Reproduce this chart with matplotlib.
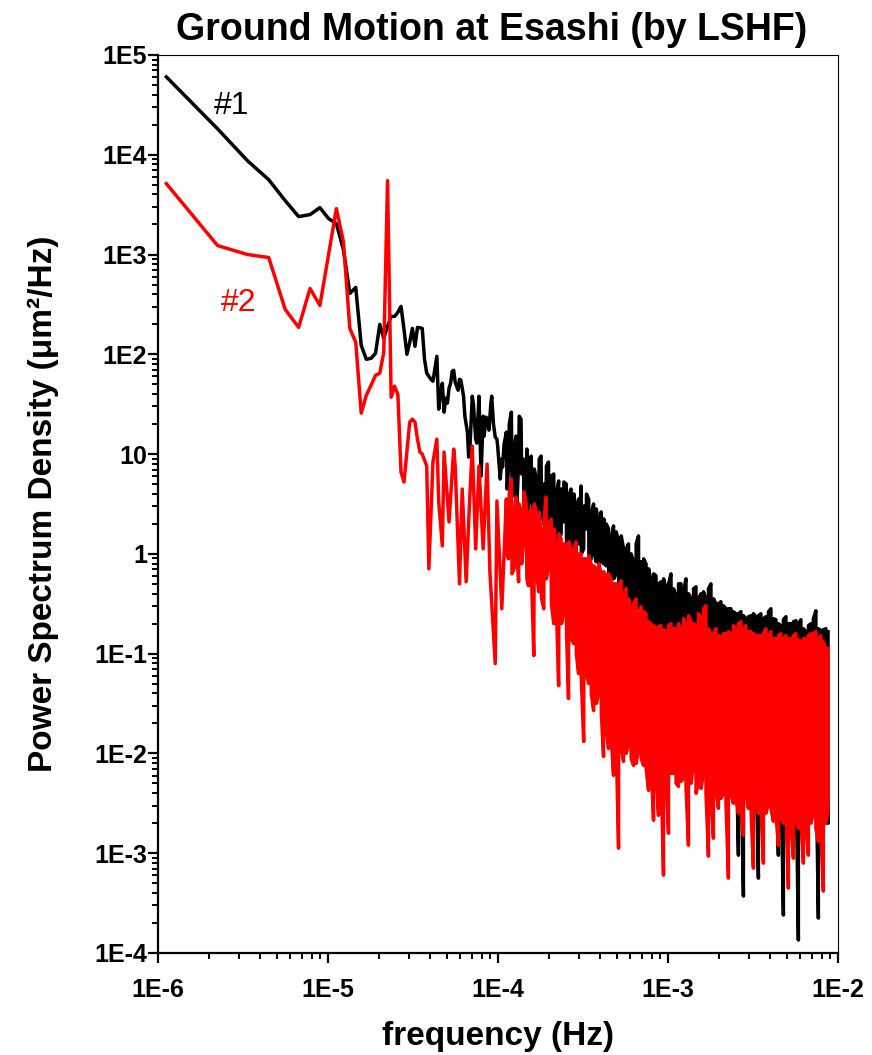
import numpy as np
import matplotlib
matplotlib.use("Agg")
import matplotlib.pyplot as plt
from matplotlib.ticker import LogLocator, NullFormatter, FixedLocator, FixedFormatter

plt.rcParams['font.family'] = ['Liberation Sans', 'DejaVu Sans']

# frequency bin width of the spectra (Hz)
DF = 1.12e-6

# --- data; PSD given as log10(um^2/Hz) ---
# sensor #1 (black), low-frequency bins
k1_low = [1, 2, 3, 4, 5, 6, 7, 8, 9, 10, 11, 12, 13, 14, 15, 16, 17, 18, 19, 20,
          21, 22, 23, 24, 25, 26, 27, 28, 29, 30, 32, 33, 34, 36, 37,
          39, 40, 41, 42, 43, 44, 45, 46, 47, 48, 49, 50, 52, 53, 54, 56, 57, 59, 60, 61,
          63, 64, 66, 67, 69, 71, 73, 74, 76, 78, 79, 81, 82, 84, 86, 88, 89, 91, 92, 94,
          95, 97]
lp1_low = [4.78, 4.26, 3.94, 3.75, 3.54, 3.38, 3.40, 3.47, 3.36, 3.31,
           3.05, 2.61, 2.67, 2.09, 1.95, 1.96, 2.01, 2.30, 2.16, 2.28,
           2.38, 2.38, 2.42, 2.48, 2.25, 2.00, 2.12, 2.26, 2.08, 2.27,
           2.26, 1.95, 1.81, 1.75, 1.73,
           1.98, 1.45, 1.62, 1.71, 1.42, 1.56, 1.51, 1.66, 1.71, 1.83,
           1.84, 1.72, 1.64, 1.75, 1.74, 1.58, 1.38, 1.22, 0.97, 1.05,
           1.58, 1.50, 1.15, 1.11, 1.58, 0.78, 1.38, 1.18, 1.37, 1.32,
           1.24, 1.50, 1.58, 1.30, 1.17, 1.15, 1.07, 0.85, 0.75, 0.95,
           0.87, 1.10]

# sensor #2 (red), low-frequency bins
k2_low = [1, 2, 3, 4, 5, 6, 7, 8, 9, 10, 11, 12, 13, 14, 15, 16, 17, 18, 19, 20,
          21, 22, 23, 24, 25, 27, 28, 29, 30, 31, 32, 34, 35, 37, 39, 40, 42, 43, 46, 49,
          50, 53, 55, 58, 60, 63, 66, 69, 73, 77, 80, 86, 88, 94]
lp2_low = [3.71, 3.09, 3.00, 2.97, 2.45, 2.27, 2.66, 2.49, 3.00, 3.46,
           3.13, 2.26, 2.12, 1.41, 1.59, 1.69, 1.79, 1.81, 2.02, 3.74,
           1.57, 1.68, 1.60, 0.82, 0.72, 1.32, 1.35, 1.32, 1.15, 1.02,
           1.00, 0.88, -0.15, 0.92, 1.15, 0.52, 0.08, 1.02, 0.32, 1.05,
           0.88, -0.30, 0.65, -0.28, 0.32, 1.08, 0.05, 0.88, 0.05, 0.90,
           -0.18, -1.10, 0.53, -0.55]

# dense high-frequency part: sampled bins k, each with two neighbouring
# values (bin k and bin k+1), one near a peak and one near a dip
k_high = [100, 103, 107, 111, 114, 118, 122, 126, 131, 135,
          140, 145, 150, 155, 160, 166, 171, 177, 183, 190,
          196, 203, 210, 217, 225, 232, 240, 249, 257, 266,
          275, 285, 295, 305, 315, 326, 337, 349, 361, 373,
          386, 399, 413, 427, 442, 457, 473, 489, 506, 523,
          541, 560, 579, 599, 620, 641, 663, 686, 709, 734,
          759, 785, 812, 840, 869, 899, 930, 962, 995, 1029,
          1065, 1101, 1139, 1178, 1219, 1261, 1304, 1349, 1395, 1443,
          1493, 1544, 1597, 1652, 1709, 1768, 1829, 1892, 1957, 2024,
          2094, 2166, 2240, 2318, 2397, 2480, 2565, 2653, 2745, 2839,
          2937, 3038, 3143, 3251, 3363, 3479, 3598, 3722, 3850, 3983,
          4120, 4262, 4408, 4560, 4717, 4880, 5047, 5221, 5401, 5587,
          5779, 5978, 6184, 6397, 6617, 6845, 7080, 7324, 7576, 7800]
lp1_high_a = [1.22, 0.85, 1.42, 0.58, 1.18, 0.90, 1.35, 0.95, 0.60, 0.22,
              0.98, 0.40, 0.75, 0.52, 0.98, 0.30, 0.52, 0.92, 0.35, 0.80,
              0.12, 0.73, 0.20, 0.32, 0.70, 0.10, 0.65, 0.25, -0.18, 0.55,
              0.68, 0.05, 0.25, 0.55, -0.05, 0.50, -0.08, 0.30, 0.42, -0.10,
              -0.12, 0.25, -0.35, 0.28, -0.20, 0.12, -0.30, 0.05, -0.40, 0.10,
              -0.75, -0.08, -0.50, 0.18, -0.08, -0.60, -0.10, -0.68, -0.28, -0.80,
              -0.22, -1.08, -0.28, -0.88, -0.35, -0.95, -0.20, -1.00, -0.42, -1.20,
              -0.30, -1.30, -0.25, -1.10, -0.45, -1.60, -0.33, -1.40, -0.40, -1.80,
              -0.45, -1.50, -0.30, -1.90, -0.50, -1.30, -0.48, -1.70, -0.55, -1.50,
              -0.55, -1.60, -0.60, -3.02, -0.58, -3.43, -0.65, -1.80, -0.62, -1.50,
              -0.63, -3.25, -0.60, -1.90, -0.63, -1.60, -0.55, -2.00, -0.66, -3.02,
              -0.72, -3.62, -0.63, -1.80, -0.70, -2.00, -0.67, -3.87, -0.66, -1.90,
              -0.78, -1.90, -0.70, -1.80, -0.57, -3.65, -0.77, -2.00, -0.75, -2.70]
lp1_high_b = [0.65, 1.30, 0.70, 1.10, 0.45, 1.38, 0.80, 0.40, 1.05, 0.90,
              0.55, 0.85, 0.30, 0.95, 0.45, 0.70, 0.88, 0.25, 0.78, 0.20,
              0.60, 0.15, 0.65, 0.72, 0.00, 0.58, 0.05, 0.60, 0.45, 0.10,
              0.00, 0.48, 0.60, -0.12, 0.40, 0.02, 0.45, -0.20, -0.05, 0.35,
              0.30, -0.30, 0.15, -0.25, 0.22, -0.45, 0.18, -0.50, 0.05, -0.55,
              0.00, -0.65, 0.10, -0.55, -0.70, -0.05, -0.85, -0.15, -0.90, -0.20,
              -0.95, -0.30, -1.05, -0.25, -1.20, -0.30, -1.10, -0.35, -1.25, -0.30,
              -1.40, -0.38, -1.50, -0.40, -1.35, -0.35, -1.70, -0.45, -1.60, -0.38,
              -1.70, -0.35, -1.60, -0.45, -1.80, -0.50, -1.90, -0.52, -1.75, -0.55,
              -2.00, -0.58, -1.85, -0.60, -1.90, -0.62, -2.00, -0.63, -2.10, -0.60,
              -2.05, -0.62, -1.95, -0.65, -2.10, -0.58, -2.00, -0.65, -2.20, -0.70,
              -2.10, -0.66, -2.00, -0.70, -2.20, -0.68, -2.10, -0.70, -2.00, -0.75,
              -2.20, -0.72, -2.10, -0.65, -2.00, -0.75, -2.20, -0.76, -2.10, -0.78]
lp2_high_a = [0.55, -0.05, 0.75, -0.15, 0.57, -0.28, 0.42, 0.10, 0.50, -0.32,
              0.45, -1.02, 0.43, -0.38, 0.20, -0.55, 0.57, -0.12, 0.35, -0.70,
              0.02, -1.32, 0.15, -0.60, 0.10, -1.45, 0.05, -0.90, 0.12, -1.20,
              0.00, -1.88, -0.05, -1.30, -0.10, -1.57, -0.15, -1.40, -0.20, -2.03,
              -0.22, -1.95, -0.25, -2.22, -0.30, -2.95, -0.27, -2.08, -0.35, -1.90,
              -0.57, -2.12, -0.45, -1.95, -0.53, -2.12, -0.60, -2.37, -0.70, -2.67,
              -0.75, -2.62, -0.72, -3.22, -0.78, -2.80, -0.70, -2.20, -0.75, -2.33,
              -0.78, -2.25, -0.72, -2.92, -0.68, -2.10, -0.72, -2.30, -0.65, -2.20,
              -0.52, -3.03, -0.82, -2.85, -0.75, -2.55, -0.83, -2.40, -0.80, -3.25,
              -0.80, -2.50, -0.75, -2.60, -0.68, -2.82, -0.72, -2.55, -0.78, -3.15,
              -0.82, -2.60, -0.82, -3.10, -0.75, -2.50, -0.78, -2.68, -0.85, -2.92,
              -0.80, -2.70, -0.82, -3.35, -0.85, -3.05, -0.80, -2.75, -0.88, -3.10,
              -0.85, -3.02, -0.80, -2.60, -0.78, -2.88, -0.82, -3.38, -0.98, -2.58]
lp2_high_b = [0.00, 0.60, -0.20, 0.45, 0.05, 0.50, -0.10, 0.62, -0.25, 0.40,
              -0.30, 0.50, -0.20, 0.40, -0.45, 0.35, -0.25, 0.30, -0.50, 0.25,
              -0.55, 0.20, -0.70, 0.10, -0.80, 0.12, -0.85, 0.05, -1.00, 0.00,
              -1.25, -0.05, -1.20, -0.02, -1.40, -0.12, -1.50, -0.10, -1.60, -0.18,
              -1.75, -0.20, -1.85, -0.30, -1.90, -0.32, -1.95, -0.40, -2.00, -0.45,
              -2.05, -0.50, -2.10, -0.62, -2.05, -0.58, -2.15, -0.68, -2.10, -0.72,
              -2.20, -0.73, -2.15, -0.76, -2.25, -0.72, -2.20, -0.75, -2.30, -0.70,
              -2.28, -0.65, -2.35, -0.62, -2.30, -0.70, -2.40, -0.60, -2.35, -0.55,
              -2.40, -0.75, -2.45, -0.80, -2.35, -0.82, -2.45, -0.80, -2.50, -0.78,
              -2.40, -0.72, -2.45, -0.70, -2.50, -0.75, -2.40, -0.78, -2.55, -0.80,
              -2.50, -0.82, -2.55, -0.80, -2.60, -0.82, -2.55, -0.85, -2.60, -0.82,
              -2.65, -0.85, -2.60, -0.85, -2.70, -0.82, -2.65, -0.86, -2.70, -0.85,
              -2.75, -0.82, -2.70, -0.80, -2.75, -0.85, -2.80, -0.88, -2.70, -0.95]

x_ticks = [1e-6, 1e-5, 1e-4, 1e-3, 1e-2]
x_labels = ['1E-6', '1E-5', '1E-4', '1E-3', '1E-2']
y_ticks = [1e-4, 1e-3, 1e-2, 1e-1, 1, 10, 1e2, 1e3, 1e4, 1e5]
y_labels = ['1E-4', '1E-3', '1E-2', '1E-1', '1', '10', '1E2', '1E3', '1E4', '1E5']


def spectrum(k_low, lp_low, lp_a, lp_b):
    kh = np.asarray(k_high, dtype=float)
    # bin k carries value a, its neighbour k+1 carries value b
    k_pairs = np.column_stack([kh, kh + 1]).ravel()
    lp_pairs = np.column_stack([lp_a, lp_b]).ravel()
    k = np.concatenate([k_low, k_pairs])
    lp = np.concatenate([lp_low, lp_pairs])
    return k * DF, 10.0 ** lp


f1, p1 = spectrum(k1_low, lp1_low, lp1_high_a, lp1_high_b)
f2, p2 = spectrum(k2_low, lp2_low, lp2_high_a, lp2_high_b)

fig = plt.figure(figsize=(8.72, 10.55), dpi=100)
ax = fig.add_axes([0.1812, 0.0967, 0.7798, 0.8512])

ax.plot(f1, p1, color='black', lw=2.5)
ax.plot(f2, p2, color='#ff0000', lw=2.5)

ax.set_xscale('log')
ax.set_yscale('log')
ax.set_xlim(1e-6, 1e-2)
ax.set_ylim(1e-4, 1e5)

ax.xaxis.set_major_locator(FixedLocator(x_ticks))
ax.xaxis.set_major_formatter(FixedFormatter(x_labels))
ax.yaxis.set_major_locator(FixedLocator(y_ticks))
ax.yaxis.set_major_formatter(FixedFormatter(y_labels))
ax.xaxis.set_minor_locator(LogLocator(base=10, subs=np.arange(2, 10), numticks=20))
ax.yaxis.set_minor_locator(LogLocator(base=10, subs=np.arange(2, 10), numticks=20))
ax.xaxis.set_minor_formatter(NullFormatter())
ax.yaxis.set_minor_formatter(NullFormatter())

ax.tick_params(which='major', direction='out', length=7, width=1.6,
               labelsize=18, top=False, right=False)
ax.tick_params(which='minor', direction='out', length=4.5, width=1.4,
               top=False, right=False)
ax.tick_params(axis='x', which='major', pad=11)
ax.tick_params(axis='y', which='major', pad=1)
for lab in ax.get_xticklabels() + ax.get_yticklabels():
    lab.set_fontweight('bold')

ax.spines['left'].set_linewidth(1.6)
ax.spines['bottom'].set_linewidth(1.6)
ax.spines['top'].set_linewidth(0.8)
ax.spines['right'].set_linewidth(0.8)

ax.set_title('Ground Motion at Esashi (by LSHF)', fontsize=27, fontweight='bold',
             pad=11, x=0.49)
ax.set_xlabel('frequency (Hz)', fontsize=24, fontweight='bold', labelpad=14)
ax.set_ylabel('Power Spectrum Density (\u03bcm\u00b2/Hz)', fontsize=24, fontweight='bold', labelpad=25)

ax.text(2.7e-6, 3.1e4, '#1', color='black', fontsize=23, ha='center', va='center')
ax.text(3.0e-6, 3.3e2, '#2', color='#ff0000', fontsize=23, ha='center', va='center')

fig.savefig('out.png', dpi=100)
